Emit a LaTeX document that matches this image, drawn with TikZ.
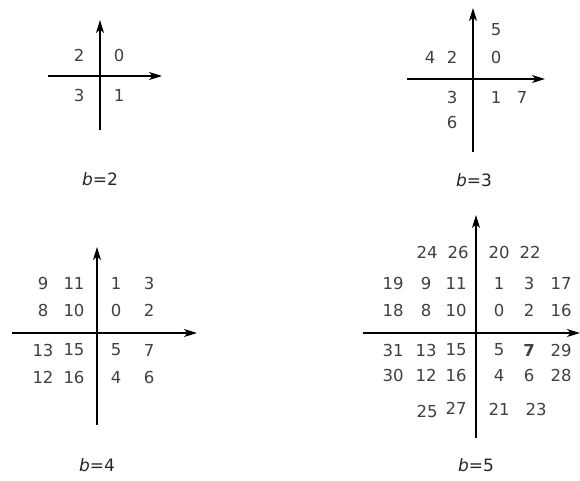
\documentclass[tikz,border=0pt]{standalone}
\usepackage{fontspec}
\setmainfont{DejaVu Sans}
\usetikzlibrary{arrows.meta}

\begin{document}
\begin{tikzpicture}[
		x=1pt, y=-1pt,
		% Axes with their arrow heads
		axis/.style={line width=1.2pt, -{Stealth[length=13pt, width=8pt, inset=3.5pt]}},
		% Numbers in the quadrants
		num/.style={text=black!75, font=\fontsize{16.5}{18}\selectfont, inner sep=0pt},
		% Caption under each panel
		caption/.style={text=black!85, font=\fontsize{17}{20}\selectfont, inner sep=0pt}
		]
		\useasboundingbox (0,0) rectangle (580,480);

		% CASE b = 2
		\begin{scope}[shift={(100,76)}]
			\coordinate (b2-xl) at (-52,0);
			\coordinate (b2-xr) at (62,0);
			\coordinate (b2-yb) at (0,54);
			\coordinate (b2-yt) at (0,-56);
			\draw[axis] (b2-xl) -- (b2-xr);
			\draw[axis] (b2-yb) -- (b2-yt);
			\node[num] (b2-n2) at (-21,-21) {2};
			\node[num] (b2-n0) at (19,-21) {0};
			\node[num] (b2-n3) at (-21,19) {3};
			\node[num] (b2-n1) at (19,19) {1};
			\node[caption] (b2-cap) at (0,103) {\textit{b}=2};
		\end{scope}

		% CASE b = 3
		\begin{scope}[shift={(473,79)}]
			\coordinate (b3-xl) at (-66,0);
			\coordinate (b3-xr) at (72,0);
			\coordinate (b3-yb) at (0,73);
			\coordinate (b3-yt) at (0,-71);
			\draw[axis] (b3-xl) -- (b3-xr);
			\draw[axis] (b3-yb) -- (b3-yt);
			\foreach \x/\y/\t in {23/-49/5, -43/-22/4, -21/-22/2, 23/-22/0,
				-21/18/3, 23/18/1, 49/18/7, -21/43/6}
				\node[num] (b3-n\t) at (\x,\y) {\t};
			\node[caption] (b3-cap) at (1,101) {\textit{b}=3};
		\end{scope}

		% CASE b = 4
		\begin{scope}[shift={(97,333)}]
			\coordinate (b4-xl) at (-85,0);
			\coordinate (b4-xr) at (100,0);
			\coordinate (b4-yb) at (0,92);
			\coordinate (b4-yt) at (0,-86);
			\draw[axis] (b4-xl) -- (b4-xr);
			\draw[axis] (b4-yb) -- (b4-yt);
			\foreach \y/\row [count=\r] in {-50/{9,11,1,3}, -23/{8,10,0,2},
				17/{13,15,5,7}, 44/{12,16,4,6}}
				\foreach \t [count=\c] in \row {
					\pgfmathsetmacro\x{{-54,-23,19,52}[\c-1]}
					\node[num] (b4-r\r c\c) at (\x,\y) {\t};
				}
			\node[caption] (b4-cap) at (0,132) {\textit{b}=4};
		\end{scope}

		% CASE b = 5
		\begin{scope}[shift={(476,333)}]
			\coordinate (b5-xl) at (-113,0);
			\coordinate (b5-xr) at (104,0);
			\coordinate (b5-yb) at (0,105);
			\coordinate (b5-yt) at (0,-118);
			\draw[axis] (b5-xl) -- (b5-xr);
			\draw[axis] (b5-yb) -- (b5-yt);
			\foreach \x/\t [count=\c] in {-49/24, -18/26, 23/20, 54/22}
				\node[num] (b5-top\c) at (\x,-81) {\t};
			\foreach \y/\row [count=\r] in {-50/{19,9,11,1,3,17}, -23/{18,8,10,0,2,16},
				17/{31,13,15,5,\textbf{7},29}, 42/{30,12,16,4,6,28}}
				\foreach \t [count=\c] in \row {
					\pgfmathsetmacro\x{{-83,-50,-20,23,53,85}[\c-1]}
					\node[num] (b5-r\r c\c) at (\x,\y) {\t};
				}
			\foreach \x/\y/\t [count=\c] in {-49/78/25, -20/75/27, 23/76/21, 60/76/23}
				\node[num] (b5-bot\c) at (\x,\y) {\t};
			\node[caption] (b5-cap) at (0,132) {\textit{b}=5};
		\end{scope}
	\end{tikzpicture}
\end{document}
